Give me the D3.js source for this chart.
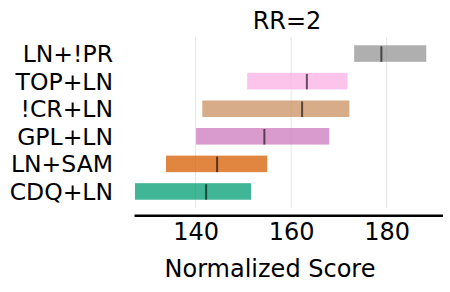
<!DOCTYPE html>
<style>
body { margin: 0; background: #fff; }
text { font-family: "DejaVu Sans", sans-serif; fill: #000; }
</style>
<svg width="450" height="292"></svg>
<script src="https://d3js.org/d3.v7.min.js"></script>
<script>

// data
var methods = ["LN+!PR", "TOP+LN", "!CR+LN", "GPL+LN", "LN+SAM", "CDQ+LN"];
var lows    = [173.2, 150.8, 141.4, 140.1, 133.8, 127.3];
var highs   = [188.3, 171.8, 172.2, 168.0, 155.0, 151.6];
var medians = [178.9, 163.3, 162.3, 154.4, 144.5, 142.2];
var colors  = ["#949494", "#fbafe4", "#ca9161", "#cc78bc", "#d55e00", "#029e73"];
var ticks   = [140, 160, 180];

var svg = d3.select("svg");

var x = d3.scaleLinear()
    .domain([127.1, 191.7])
    .range([134, 442.5]);

var y = d3.scaleBand()
    .domain(methods)
    .range([37, 208])
    .paddingInner(0.4)
    .paddingOuter(0.3);

// grid
svg.append("g")
  .selectAll("line")
  .data(ticks)
  .enter().append("line")
    .attr("x1", function(d) { return x(d); })
    .attr("x2", function(d) { return x(d); })
    .attr("y1", 37)
    .attr("y2", 208)
    .attr("stroke", "#e6e6e6")
    .attr("stroke-width", 1);

var rows = methods.map(function(m, i) {
  return { name: m, lo: lows[i], hi: highs[i], med: medians[i], color: colors[i] };
});

// range bars
svg.append("g")
  .selectAll("rect")
  .data(rows)
  .enter().append("rect")
    .attr("x", function(d) { return x(d.lo); })
    .attr("y", function(d) { return y(d.name); })
    .attr("width", function(d) { return x(d.hi) - x(d.lo); })
    .attr("height", y.bandwidth())
    .attr("fill", function(d) { return d.color; })
    .attr("fill-opacity", 0.75);

// median marks
svg.append("g")
  .selectAll("line")
  .data(rows)
  .enter().append("line")
    .attr("x1", function(d) { return x(d.med); })
    .attr("x2", function(d) { return x(d.med); })
    .attr("y1", function(d) { return y(d.name) + 1; })
    .attr("y2", function(d) { return y(d.name) + y.bandwidth(); })
    .attr("stroke", "#000")
    .attr("stroke-opacity", 0.6)
    .attr("stroke-width", 2);

// category labels
svg.append("g")
  .selectAll("text")
  .data(methods)
  .enter().append("text")
    .attr("x", 113)
    .attr("y", function(d) { return y(d) + y.bandwidth() / 2; })
    .attr("dy", "0.36em")
    .attr("text-anchor", "end")
    .attr("font-size", 23.5)
    .text(function(d) { return d; });

// x axis
var xAxis = svg.append("g")
    .attr("transform", "translate(0,215.3)")
    .call(d3.axisBottom(x).tickValues(ticks).tickSize(0).tickPadding(0));
xAxis.select(".domain")
    .attr("stroke", "#000")
    .attr("stroke-width", 2.5);
xAxis.selectAll("text")
    .attr("font-family", "DejaVu Sans, sans-serif")
    .attr("font-size", 24)
    .attr("fill", "#000")
    .attr("dy", null)
    .attr("y", 24.3);

svg.append("text")
    .attr("x", 270)
    .attr("y", 277)
    .attr("text-anchor", "middle")
    .attr("font-size", 24)
    .text("Normalized Score");

svg.append("text")
    .attr("x", 287)
    .attr("y", 29)
    .attr("text-anchor", "middle")
    .attr("font-size", 24)
    .text("RR=2");

</script>
